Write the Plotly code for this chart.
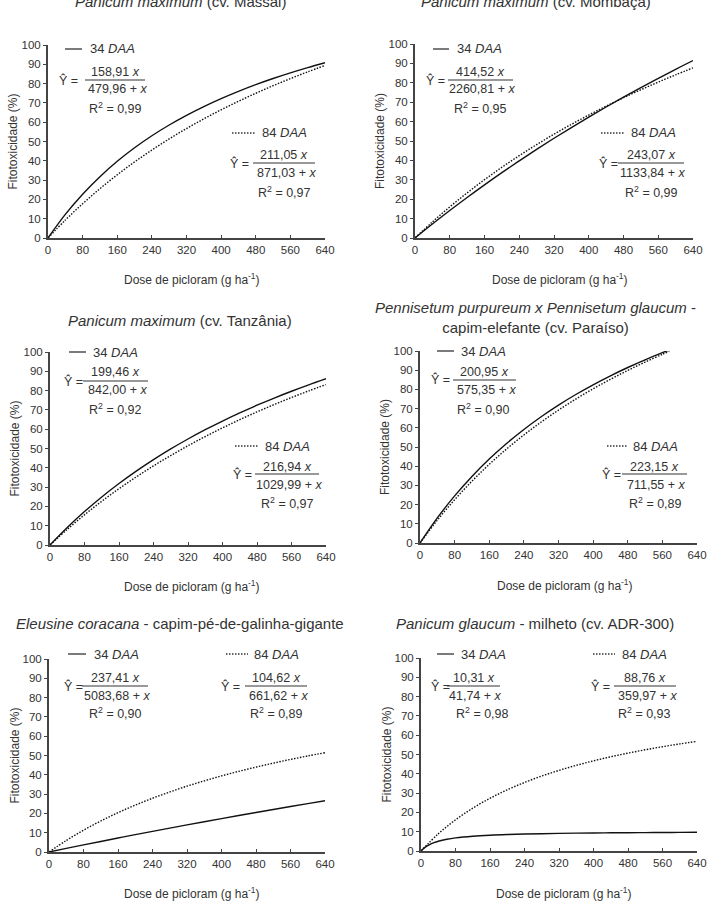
import plotly.graph_objects as go

# ---------------- data ----------------
dose = [0, 40, 80, 120, 160, 200, 240, 280, 320, 360, 400, 440, 480, 520, 560, 600, 640]
dose_paraiso = [0, 40, 80, 120, 160, 200, 240, 280, 320, 360, 400, 440, 480, 520, 560, 576]
dose_milheto34 = [0, 10, 20, 30, 40, 60, 80, 120, 160, 200, 240, 280, 320, 360, 400, 440, 480, 520, 560, 600, 640]

massai_34 = [0, 12.22, 22.70, 31.78, 39.73, 46.74, 52.97, 58.55, 63.57, 68.11, 72.24, 76.00, 79.46, 82.64, 85.57, 88.29, 90.81]
massai_84 = [0, 9.27, 17.75, 25.56, 32.75, 39.41, 45.59, 51.34, 56.70, 61.72, 66.42, 70.83, 74.98, 78.90, 82.59, 86.08, 89.39]
mombaca_34 = [0, 7.21, 14.17, 20.89, 27.40, 33.69, 39.78, 45.68, 51.40, 56.94, 62.31, 67.53, 72.60, 77.51, 82.29, 86.94, 91.45]
mombaca_84 = [0, 8.28, 16.02, 23.26, 30.06, 36.45, 42.46, 48.14, 53.50, 58.58, 63.39, 67.96, 72.30, 76.43, 80.36, 84.11, 87.70]
tanzania_34 = [0, 9.05, 17.31, 24.88, 31.85, 38.28, 44.24, 49.78, 54.93, 59.74, 64.24, 68.46, 72.42, 76.15, 79.67, 82.99, 86.14]
tanzania_84 = [0, 8.11, 15.64, 22.64, 29.17, 35.27, 41.00, 46.37, 51.42, 56.19, 60.68, 64.93, 68.96, 72.78, 76.41, 79.86, 83.14]
paraiso_34 = [0, 13.06, 24.53, 34.68, 43.72, 51.83, 59.15, 65.78, 71.82, 77.34, 82.41, 87.08, 91.40, 95.40, 99.12, 100.53]
paraiso_84 = [0, 11.88, 22.55, 32.20, 40.97, 48.96, 56.28, 63.01, 69.22, 74.97, 80.30, 85.26, 89.89, 94.22, 98.28, 99.83]
eleusine_34 = [0, 1.85, 3.68, 5.47, 7.24, 8.99, 10.70, 12.39, 14.06, 15.70, 17.32, 18.91, 20.48, 22.03, 23.56, 25.06, 26.55]
eleusine_84 = [0, 5.96, 11.29, 16.06, 20.37, 24.28, 27.85, 31.11, 34.11, 36.87, 39.42, 41.79, 43.99, 46.04, 47.96, 49.76, 51.44]
milheto_34 = [0, 1.99, 3.34, 4.31, 5.05, 6.08, 6.78, 7.65, 8.18, 8.53, 8.78, 8.97, 9.12, 9.24, 9.34, 9.42, 9.49, 9.54, 9.59, 9.64, 9.68]
milheto_84 = [0, 8.88, 16.14, 22.19, 27.31, 31.70, 35.51, 38.83, 41.77, 44.38, 46.72, 48.82, 50.72, 52.45, 54.03, 55.48, 56.81]

titles = [
    "<i>Panicum maximum</i> (cv. Massai)",
    "<i>Panicum maximum</i> (cv. Mombaça)",
    "<i>Panicum maximum</i> (cv. Tanzânia)",
    "<i>Pennisetum purpureum x Pennisetum glaucum</i> -<br>capim-elefante (cv. Paraíso)",
    "<i>Eleusine coracana</i> - capim-pé-de-galinha-gigante",
    "<i>Panicum glaucum</i> - milheto (cv. ADR-300)",
]
eq34_num = ["158,91", "414,52", "199,46", "200,95", "237,41", "10,31"]
eq34_den = ["479,96", "2260,81", "842,00", "575,35", "5083,68", "41,74"]
r2_34 = ["0,99", "0,95", "0,92", "0,90", "0,90", "0,98"]
eq84_num = ["211,05", "243,07", "216,94", "223,15", "104,62", "88,76"]
eq84_den = ["871,03", "1133,84", "1029,99", "711,55", "661,62", "359,97"]
r2_84 = ["0,97", "0,99", "0,97", "0,89", "0,89", "0,93"]

x_ticks = [0, 80, 160, 240, 320, 400, 480, 560, 640]
y_ticks = [0, 10, 20, 30, 40, 50, 60, 70, 80, 90, 100]
x_title = "Dose de picloram (g ha<sup>-1</sup>)"
y_title = "Fitotoxicidade (%)"

series = [
    (dose, massai_34, dose, massai_84),
    (dose, mombaca_34, dose, mombaca_84),
    (dose, tanzania_34, dose, tanzania_84),
    (dose_paraiso, paraiso_34, dose_paraiso, paraiso_84),
    (dose, eleusine_34, dose, eleusine_84),
    (dose_milheto34, milheto_34, dose, milheto_84),
]

# ---------------- layout geometry (pixels) ----------------
W, H = 724, 906
def px(x):
    return x / W
def py(y):
    return 1 - y / H

# plot boxes: left, right, top, bottom
boxes = [
    (48, 325, 45, 238),
    (415, 693, 44, 238),
    (50, 326, 352, 545),
    (420, 697, 351, 543),
    (49, 325, 659, 852),
    (421, 697, 658, 851),
]
title_pos = [(180, 1), (536, 1), (180, 320), (535, 317), (180, 623), (535, 623)]
xtitle_pos = [(192, 279), (560, 279), (192, 586), (565, 585), (192, 893), (564, 893)]

# blocks: legend line (x0,x1,y), legend text x, yhat x, frac (x0,x1,y), num y, den y, r2 (x,y)
blocks34 = [
    ((65, 82, 49), 88, 57, (85, 145, 80), 72, 89, (115, 108)),
    ((433, 449, 49), 455, 424, (448, 513, 80), 72, 89, (480, 108)),
    ((69, 86, 352), 91, 62, (83, 148, 381), 372, 390, (115, 409)),
    ((437, 454, 351), 459, 429, (453, 516, 380), 372, 390, (484, 409)),
    ((68, 86, 654), 92, 62, (82, 148, 686), 678, 696, (115, 713)),
    ((437, 454, 654), 459, 429, (447, 500, 686), 678, 696, (482, 713)),
]
blocks84 = [
    ((232, 256, 133), 260, 228, (253, 315, 163), 155, 173, (284, 192)),
    ((601, 625, 133), 629, 597, (618, 684, 163), 155, 173, (651, 192)),
    ((235, 259, 446), 263, 231, (255, 319, 474), 467, 485, (287, 503)),
    ((607, 627, 446), 631, 600, (622, 687, 474), 467, 485, (655, 503)),
    ((226, 248, 654), 252, 219, (245, 307, 686), 678, 696, (276, 713)),
    ((593, 615, 654), 620, 589, (614, 676, 686), 678, 696, (644, 713)),
]

TXT = "#333333"
FONT = "Liberation Sans, Arial, sans-serif"
DOT = "1.5px,1.5px"

fig = go.Figure()
layout = dict(
    width=W, height=H, margin=dict(l=0, r=0, t=0, b=0, autoexpand=False),
    paper_bgcolor="white", plot_bgcolor="white", showlegend=False,
    font=dict(family=FONT, color=TXT, size=11),
)
annotations = []
shapes = []

for i in range(6):
    k = "" if i == 0 else str(i + 1)
    xa, ya = "x" + k, "y" + k
    l, r, t, b = boxes[i]
    x34, y34, x84, y84 = series[i]
    fig.add_trace(go.Scatter(x=x34, y=y34, mode="lines", xaxis=xa, yaxis=ya,
                             line=dict(color="#111111", width=1.4, shape="spline"), hoverinfo="skip"))
    fig.add_trace(go.Scatter(x=x84, y=y84, mode="lines", xaxis=xa, yaxis=ya,
                             line=dict(color="#111111", width=1.4, dash=DOT, shape="spline"), hoverinfo="skip"))
    layout["xaxis" + k] = dict(
        domain=[px(l), px(r)], anchor=ya, range=[0, 640], tickvals=x_ticks,
        showgrid=False, zeroline=False, showline=True, linecolor="#444444", linewidth=2,
        ticks="inside", ticklen=3, tickcolor="#444444", tickfont=dict(size=11.5, color=TXT),
        fixedrange=True, automargin=False,
    )
    layout["yaxis" + k] = dict(
        domain=[py(b), py(t)], anchor=xa, range=[0, 100], tickvals=y_ticks,
        showgrid=False, zeroline=False, showline=True, linecolor="#444444", linewidth=2,
        ticks="outside", ticklen=3, tickcolor="#444444", tickfont=dict(size=11.5, color=TXT),
        fixedrange=True, automargin=False,
    )
    # title
    tx, ty = title_pos[i]
    annotations.append(dict(text=titles[i], x=px(tx), y=py(ty), xref="paper", yref="paper",
                            showarrow=False, xanchor="center", yanchor="middle",
                            font=dict(size=15, color=TXT)))
    # axis titles
    xx, xy = xtitle_pos[i]
    annotations.append(dict(text=x_title, x=px(xx), y=py(xy), xref="paper", yref="paper",
                            showarrow=False, xanchor="center", yanchor="middle",
                            font=dict(size=12, color=TXT)))
    annotations.append(dict(text=y_title, x=px(l - 35), y=py((t + b) / 2), xref="paper", yref="paper",
                            showarrow=False, xanchor="center", yanchor="middle", textangle=-90,
                            font=dict(size=12, color=TXT)))
    # equation blocks
    for blk, lab, dash, num, den, r2 in (
        (blocks34[i], "34", "solid", eq34_num[i], eq34_den[i], r2_34[i]),
        (blocks84[i], "84", DOT, eq84_num[i], eq84_den[i], r2_84[i]),
    ):
        (lx0, lx1, ly), ltx, yhx, (fx0, fx1, fy), ny, dy, (rx, ry) = blk
        shapes.append(dict(type="line", xref="paper", yref="paper", x0=px(lx0), x1=px(lx1),
                           y0=py(ly), y1=py(ly), line=dict(color="#333333", width=1.3, dash=dash)))
        annotations.append(dict(text=lab + " <i>DAA</i>", x=px(ltx), y=py(ly), xref="paper", yref="paper",
                                showarrow=False, xanchor="left", yanchor="middle",
                                font=dict(size=13, color=TXT)))
        annotations.append(dict(text="Ŷ =", x=px(yhx), y=py(fy), xref="paper", yref="paper",
                                showarrow=False, xanchor="left", yanchor="middle",
                                font=dict(size=12.5, color=TXT)))
        shapes.append(dict(type="line", xref="paper", yref="paper", x0=px(fx0), x1=px(fx1),
                           y0=py(fy), y1=py(fy), line=dict(color="#333333", width=1)))
        cx = (fx0 + fx1) / 2
        annotations.append(dict(text=num + " <i>x</i>", x=px(cx), y=py(ny), xref="paper", yref="paper",
                                showarrow=False, xanchor="center", yanchor="middle",
                                font=dict(size=12.5, color=TXT)))
        annotations.append(dict(text=den + " + <i>x</i>", x=px(cx + 2), y=py(dy), xref="paper", yref="paper",
                                showarrow=False, xanchor="center", yanchor="middle",
                                font=dict(size=12.5, color=TXT)))
        annotations.append(dict(text="R<sup>2</sup> = " + r2, x=px(rx), y=py(ry), xref="paper", yref="paper",
                                showarrow=False, xanchor="center", yanchor="middle",
                                font=dict(size=12.5, color=TXT)))

layout["annotations"] = annotations
layout["shapes"] = shapes
fig.update_layout(**layout)
fig.write_html("out.html", config={"displayModeBar": False},
               post_script="document.body.style.margin='0';document.body.style.padding='0';")
